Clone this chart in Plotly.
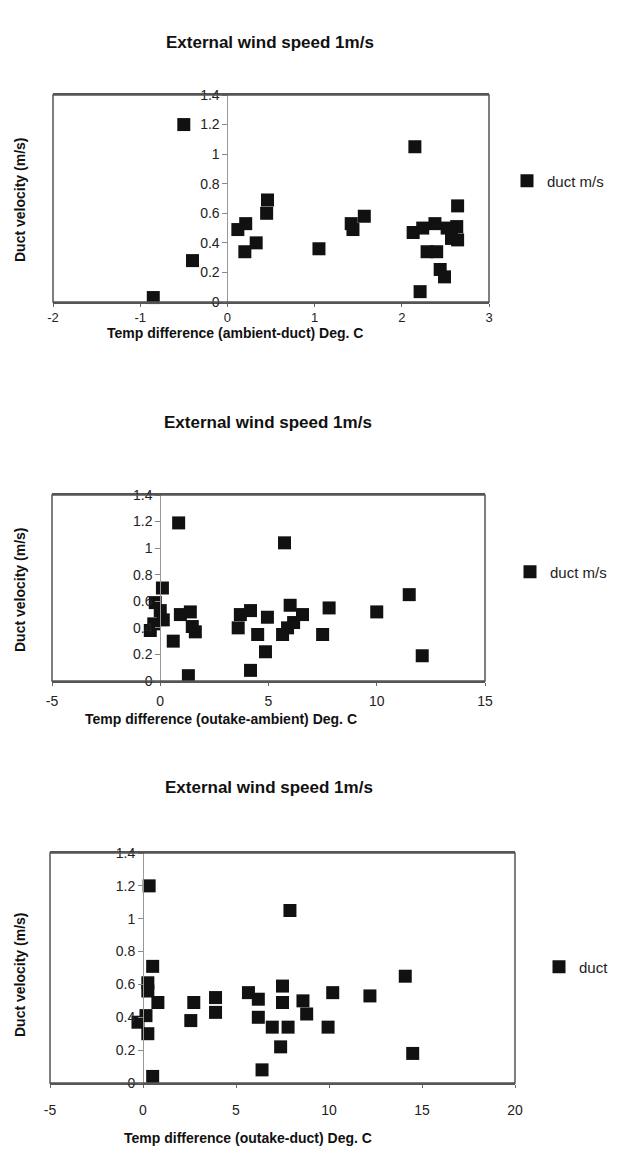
import plotly.graph_objects as go

# ---------------- data ----------------
temp_ambient_duct = [-0.85, -0.5, -0.4, 0.12, 0.21, 0.2, 0.33, 0.45, 0.46, 1.05, 1.42, 1.44, 1.57,
                     2.15, 2.13, 2.24, 2.38, 2.52, 2.63, 2.57, 2.64, 2.29, 2.40, 2.44, 2.49, 2.21, 2.64]
velocity_1 = [0.03, 1.2, 0.28, 0.49, 0.53, 0.34, 0.40, 0.60, 0.69, 0.36, 0.53, 0.49, 0.58,
              1.05, 0.47, 0.50, 0.53, 0.50, 0.51, 0.43, 0.42, 0.34, 0.34, 0.22, 0.17, 0.07, 0.65]

temp_outake_ambient = [0.85, 5.74, 0.1, -0.23, 0.0, -0.46, -0.3, 0.14, 0.6, 0.93, 1.39, 1.48, 1.62, 1.3,
                       3.7, 3.6, 4.17, 4.5, 4.95, 4.86, 4.17, 5.65, 6.0, 6.16, 6.57, 5.88, 7.5, 7.8,
                       10.0, 11.5, 12.1]
velocity_2 = [1.19, 1.04, 0.70, 0.59, 0.53, 0.38, 0.43, 0.46, 0.30, 0.50, 0.52, 0.41, 0.37, 0.04,
              0.50, 0.40, 0.53, 0.35, 0.48, 0.22, 0.08, 0.35, 0.57, 0.44, 0.50, 0.40, 0.35, 0.55,
              0.52, 0.65, 0.19]

temp_outake_duct = [0.33, 7.9, 0.52, 0.26, 0.26, 0.8, -0.27, 0.16, 0.26, 0.52, 2.73, 2.57, 3.9, 3.9,
                    5.67, 6.2, 6.2, 6.95, 7.8, 7.5, 7.5, 7.4, 6.4, 8.6, 8.8, 10.2, 9.95, 12.2, 14.1, 14.5]
velocity_3 = [1.20, 1.05, 0.71, 0.61, 0.56, 0.49, 0.37, 0.41, 0.30, 0.04, 0.49, 0.38, 0.52, 0.43,
              0.55, 0.51, 0.40, 0.34, 0.34, 0.59, 0.49, 0.22, 0.08, 0.50, 0.42, 0.55, 0.34, 0.53,
              0.65, 0.18]

chart_title = "External wind speed 1m/s"
x_titles = ["Temp difference (ambient-duct) Deg. C",
            "Temp difference (outake-ambient) Deg. C",
            "Temp difference (outake-duct) Deg. C"]
y_title = "Duct velocity (m/s)"
series_name = "duct m/s"
y_ticks = [0, 0.2, 0.4, 0.6, 0.8, 1, 1.2, 1.4]
y_tick_labels = ["0", "0.2", "0.4", "0.6", "0.8", "1", "1.2", "1.4"]
x_ticks_1 = [-2, -1, 0, 1, 2, 3]
x_tick_labels_1 = ["-2", "-1", "0", "1", "2", "3"]
x_ticks_2 = [-5, 0, 5, 10, 15]
x_tick_labels_2 = ["-5", "0", "5", "10", "15"]
x_ticks_3 = [-5, 0, 5, 10, 15, 20]
x_tick_labels_3 = ["-5", "0", "5", "10", "15", "20"]

# ---------------- layout helpers ----------------
# page body has an 8px margin: the figure starts at (8, 8) in the window
OFF = 8
W, H = 617 - OFF, 1157 - OFF
FONT = "Liberation Sans, Arial, sans-serif"
def fx(p):
    return (p - OFF) / W
def fy(p):
    return 1 - (p - OFF) / H

panels = [
    dict(x=temp_ambient_duct, y=velocity_1, xt_vals=x_ticks_1, xt_text=x_tick_labels_1,
         dx=(53, 489), dy=(95, 302), title=(270, 42), xt=(235, 333), yt=(20, 200),
         leg=(507, 181), standoff=0, tfs=13),
    dict(x=temp_outake_ambient, y=velocity_2, xt_vals=x_ticks_2, xt_text=x_tick_labels_2,
         dx=(52, 485), dy=(495, 681), title=(268, 422), xt=(221, 719), yt=(20, 590),
         leg=(510, 572), standoff=3, tfs=14),
    dict(x=temp_outake_duct, y=velocity_3, xt_vals=x_ticks_3, xt_text=x_tick_labels_3,
         dx=(50, 515), dy=(853, 1083), title=(269, 787), xt=(248, 1138), yt=(20, 975),
         leg=(539, 967), standoff=10, tfs=14),
]

fig = go.Figure()
annotations = []
shapes = []
layout = dict(width=W, height=H, margin=dict(l=0, r=0, t=0, b=0, autoexpand=False),
              paper_bgcolor="white", plot_bgcolor="white",
              font=dict(family=FONT, color="#1a1a1a"))

for i, p in enumerate(panels, start=1):
    sfx = "" if i == 1 else str(i)
    xa, ya = "x" + sfx, "y" + sfx
    leg = "legend" + sfx
    fig.add_trace(go.Scatter(
        x=p["x"], y=p["y"], mode="markers", name=series_name,
        xaxis=xa, yaxis=ya, legend=leg, cliponaxis=False,
        marker=dict(symbol="square", size=13, color="#111111", line=dict(width=0)),
    ))
    xr = [p["xt_vals"][0], p["xt_vals"][-1]]
    layout["xaxis" + sfx] = dict(
        domain=[fx(p["dx"][0]), fx(p["dx"][1])], range=xr,
        tickmode="array", tickvals=p["xt_vals"], ticktext=p["xt_text"],
        anchor=ya, showgrid=False, zeroline=False, showline=True, linecolor="#555",
        linewidth=1.5, mirror=True, ticks="outside", ticklen=3, tickcolor="#666",
        ticklabelstandoff=p["standoff"],
        tickfont=dict(size=p["tfs"], family=FONT, color="#222"), automargin=False,
    )
    zero_pos = fx(p["dx"][0] + (0 - xr[0]) / (xr[1] - xr[0]) * (p["dx"][1] - p["dx"][0]))
    layout["yaxis" + sfx] = dict(
        domain=[fy(p["dy"][1]), fy(p["dy"][0])], range=[0, 1.4],
        tickmode="array", tickvals=y_ticks, ticktext=y_tick_labels,
        anchor="free", position=zero_pos, showgrid=False, zeroline=False,
        showline=True, linecolor="#999", linewidth=1, ticks="outside", ticklen=5,
        tickcolor="#888", tickfont=dict(size=14, family=FONT, color="#222"), automargin=False,
    )
    shapes.append(dict(type="rect", xref=xa + " domain", yref=ya + " domain",
                       x0=0, x1=1, y0=0, y1=1, line=dict(color="#555", width=1.5),
                       fillcolor="rgba(0,0,0,0)", layer="above"))
    layout[leg] = dict(x=fx(p["leg"][0]), y=fy(p["leg"][1]), xanchor="left", yanchor="middle",
                       bgcolor="rgba(0,0,0,0)", font=dict(size=15, family=FONT, color="#222"),
                       itemwidth=30)
    annotations.append(dict(text="<b>" + chart_title + "</b>", xref="paper", yref="paper",
                            x=fx(p["title"][0]), y=fy(p["title"][1]), showarrow=False,
                            xanchor="center", yanchor="middle",
                            font=dict(size=17, family=FONT, color="#111")))
    annotations.append(dict(text="<b>" + x_titles[i - 1] + "</b>", xref="paper", yref="paper",
                            x=fx(p["xt"][0]), y=fy(p["xt"][1]), showarrow=False,
                            xanchor="center", yanchor="middle",
                            font=dict(size=14, family=FONT, color="#111")))
    annotations.append(dict(text="<b>" + y_title + "</b>", xref="paper", yref="paper",
                            x=fx(p["yt"][0]), y=fy(p["yt"][1]), showarrow=False, textangle=-90,
                            xanchor="center", yanchor="middle",
                            font=dict(size=14, family=FONT, color="#111")))

layout["annotations"] = annotations
layout["shapes"] = shapes
layout["showlegend"] = True
fig.update_layout(**layout)
fig.write_html("out.html")
